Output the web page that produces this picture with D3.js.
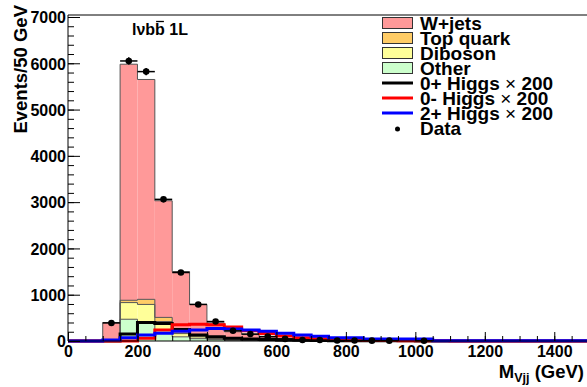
<!DOCTYPE html>
<html><head><meta charset="utf-8">
<script src="https://cdn.jsdelivr.net/npm/d3@7"></script>
<style>
body{margin:0;background:#fff}
svg{display:block}
text{font-family:"Liberation Sans",Arial,Helvetica,sans-serif;font-weight:bold;fill:#000}
</style>
</head><body><svg id="c" width="587" height="387"></svg>
<script>
// ---- data (30 bins of 50 GeV from 0 to 1500) ----
const binEdges = d3.range(0, 1501, 50);
const other   = [0,0,10,470,380,230,90,50,30,15,10,6,4,3,2,1,1,1,0,0,0,0,0,0,0,0,0,0,0,0];
const diboson = [0,0,10,360,410,190,70,40,20,10,6,4,3,2,1,1,1,0,0,0,0,0,0,0,0,0,0,0,0,0];
const topq    = [0,0,5,50,110,90,60,50,30,20,14,10,6,4,3,2,2,1,1,1,0,0,0,0,0,0,0,0,0,0];
const wjets   = [0,0,375,5100,4750,2520,1280,650,310,155,110,70,37,19,14,10,6,6,5,4,3,2,2,1,1,1,0,0,0,0];
const higgs0p = [0,0,0,150,400,380,250,130,90,60,45,30,20,15,10,8,6,5,4,3,2,1,1,0,0,0,0,0,0,0];
const higgs0m = [0,0,0,0,60,240,350,360,350,300,220,160,110,70,50,30,20,15,10,8,5,3,2,1,1,0,0,0,0,0];
const higgs2p = [0,0,20,70,130,170,210,240,270,260,240,210,170,130,100,70,70,45,45,45,45,5,5,5,5,5,5,5,5,5];
const dataX   = [125,175,225,275,325,375,425,475,525,575,625,675,725,775,825,875,925,1025];
const dataY   = [390,6050,5820,3060,1480,790,420,220,150,95,45,22,20,12,10,8,8,5];
const xTicks  = [0,200,400,600,800,1000,1200,1400];
const yTicks  = [0,1000,2000,3000,4000,5000,6000,7000];

const legendLabels = ["W+jets","Top quark","Diboson","Other","0+ Higgs","0- Higgs","2+ Higgs","Data"];

// ---- layout ----
const svg = d3.select("#c");
const L = 68, R = 589, T = 15, B = 341;
const x = d3.scaleLinear().domain([0,1500]).range([L,R]);
const y = d3.scaleLinear().domain([0,7043]).range([B,T]);

const colW = "#ff9999", colTop = "#ffcc66", colDib = "#ffff99", colOth = "#ccffcc";

// stack: bottom to top
const layers = [
  {v: other, c: colOth},
  {v: diboson, c: colDib},
  {v: topq, c: colTop},
  {v: wjets, c: colW}
];
let cum = new Array(30).fill(0);
const cumLevels = [];
layers.forEach(l => {
  const lo = cum.slice();
  const hi = cum.map((c,i)=>c + l.v[i]);
  l.lo = lo; l.hi = hi;
  cumLevels.push(hi);
  cum = hi;
});

function stepPath(vals){
  let p = `M${x(binEdges[0])},${y(0)}`;
  vals.forEach((v,i)=>{
    p += `L${x(binEdges[i])},${y(v)}L${x(binEdges[i+1])},${y(v)}`;
  });
  p += `L${x(binEdges[vals.length])},${y(0)}`;
  return p;
}

const gStack = svg.append("g");
layers.forEach(l => {
  gStack.selectAll(null).data(d3.range(30).filter(i=>l.hi[i]>l.lo[i])).enter()
    .append("rect")
    .attr("x", i=>x(binEdges[i]))
    .attr("width", i=>x(binEdges[i+1])-x(binEdges[i]))
    .attr("y", i=>y(l.hi[i]))
    .attr("height", i=>y(l.lo[i])-y(l.hi[i]))
    .attr("fill", l.c);
});
cumLevels.forEach(lv => {
  gStack.append("path").attr("d", stepPath(lv)).attr("fill","none")
    .attr("stroke","#555").attr("stroke-width",1);
});

// Higgs lines
[[higgs0p,"#000000"],[higgs0m,"#ff0000"],[higgs2p,"#0000ff"]].forEach(([v,c])=>{
  svg.append("path").attr("d", stepPath(v)).attr("fill","none")
    .attr("stroke",c).attr("stroke-width",3).attr("stroke-linejoin","miter");
});

// axes
const gx = svg.append("g").attr("transform",`translate(0,${B})`)
  .call(d3.axisBottom(x).tickValues(xTicks).tickSizeInner(-9).tickSizeOuter(0).tickFormat(d3.format("d")));
gx.selectAll("text").attr("y",16).attr("dy","0").style("font-size","16px").style("font-family","Liberation Sans, Arial, sans-serif").style("font-weight","bold");
const gxm = svg.append("g").attr("transform",`translate(0,${B})`)
  .call(d3.axisBottom(x).tickValues(d3.range(0,1501,50)).tickSizeInner(-5).tickSizeOuter(0).tickFormat(""));
gxm.select(".domain").remove();

const gy = svg.append("g").attr("transform",`translate(${L},0)`)
  .call(d3.axisLeft(y).tickValues(yTicks).tickSizeInner(-12).tickSizeOuter(0).tickPadding(2).tickFormat(d3.format("d")));
gy.selectAll("text").style("font-size","16px").style("font-family","Liberation Sans, Arial, sans-serif").style("font-weight","bold").attr("dy","0.36em");
gy.select(".domain").attr("d",`M0,${B}V${T}`);
const gym = svg.append("g").attr("transform",`translate(${L},0)`)
  .call(d3.axisLeft(y).tickValues(d3.range(0,7001,200)).tickSizeInner(-6).tickSizeOuter(0).tickFormat(""));
gym.select(".domain").remove();
svg.selectAll(".tick line").attr("stroke","#000");
gx.select(".domain").attr("d",`M${L},0H${R}`);

// frame top
svg.append("line").attr("x1",L).attr("x2",R).attr("y1",T).attr("y2",T).attr("stroke","#000");
svg.append("line").attr("x1",R).attr("x2",R).attr("y1",T).attr("y2",B).attr("stroke","#000");

// Data points
const gd = svg.append("g");
dataX.forEach((dx,i)=>{
  const v = dataY[i], e = Math.sqrt(v);
  gd.append("line").attr("x1",x(dx-25)).attr("x2",x(dx+25)).attr("y1",y(v)).attr("y2",y(v))
    .attr("stroke","#000").attr("stroke-width",1.5);
  gd.append("line").attr("x1",x(dx)).attr("x2",x(dx)).attr("y1",y(v+e)).attr("y2",y(v-e))
    .attr("stroke","#000").attr("stroke-width",1.5);
  gd.append("circle").attr("cx",x(dx)).attr("cy",y(v)).attr("r",3.3).attr("fill","#000");
});

// Title
const title = svg.append("text").attr("x",132).attr("y",35).style("font-size","16px").text("lνbb 1L");
const tn = title.node();
const bx0 = 132 + tn.getSubStringLength(0,3);
const bw = tn.getSubStringLength(3,1);
svg.append("line").attr("x1",bx0+1).attr("x2",bx0+bw-1).attr("y1",21.5).attr("y2",21.5)
  .attr("stroke","#000").attr("stroke-width",1.3);

// Axis titles
svg.append("text").attr("transform","translate(27,5) rotate(-90)").attr("text-anchor","end")
  .style("font-size","18.5px").text("Events/50 GeV");
const xt = svg.append("text").attr("x",584).attr("y",378).attr("text-anchor","end").style("font-size","18.5px");
xt.append("tspan").text("M");
xt.append("tspan").attr("dy",4).style("font-size","12.5px").text("Vjj");
xt.append("tspan").attr("dy",-4).text(" (GeV)");

// Legend
const lg = svg.append("g");
const rowY = i => 23 + i*15;
legendLabels.forEach((lab,i)=>{
  const cy = rowY(i);
  if (i < 4) {
    const c = [colW,colTop,colDib,colOth][i];
    lg.append("rect").attr("x",382.5).attr("y",cy-5.5).attr("width",30).attr("height",11)
      .attr("fill",c).attr("stroke","#333").attr("stroke-width",1);
  } else if (i < 7) {
    const c = ["#000","#ff0000","#0000ff"][i-4];
    lg.append("line").attr("x1",382).attr("x2",413).attr("y1",cy).attr("y2",cy)
      .attr("stroke",c).attr("stroke-width",3);
  } else {
    lg.append("circle").attr("cx",397.5).attr("cy",cy+1).attr("r",2.5).attr("fill","#000");
  }
  const t = lg.append("text").attr("x",420).attr("y",cy+7).style("font-size","19px");
  t.append("tspan").text(lab);
  if (i>=4 && i<7) {
    t.append("tspan").style("font-weight","normal").text(" \u00d7");
    t.append("tspan").text(" 200");
  }
});
</script>
</body></html>
